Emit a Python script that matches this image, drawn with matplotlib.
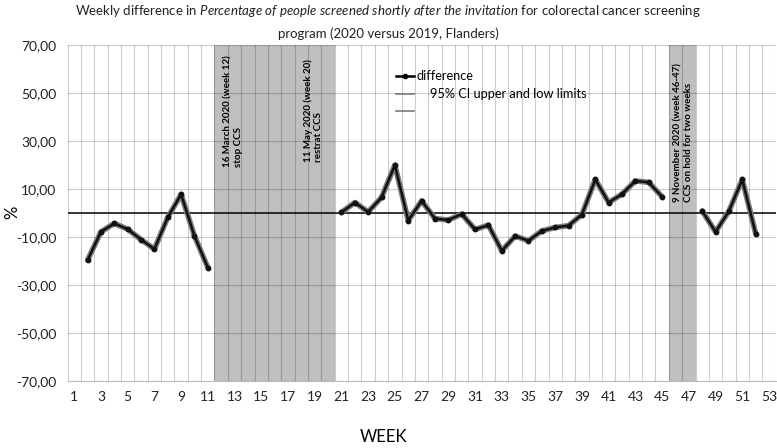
import numpy as np
import matplotlib
matplotlib.use('Agg')
import matplotlib.pyplot as plt
from matplotlib.lines import Line2D

# weekly difference (2020 - 2019), None = no screening / no data
weeks = list(range(1, 54))
difference = [None, -19.7, -7.9, -4.4, -6.8, -11.1, -15.1, -1.9, 7.7, -9.6,
              -22.8, None, None, None, None, None, None, None, None, None,
              0.2, 4.3, 0.4, 6.4, 19.9, -3.2, 5.0, -2.4, -3.0, -0.5,
              -6.9, -5.1, -15.8, -9.7, -11.6, -7.5, -6.1, -5.3, -0.7, 13.9,
              4.3, 7.8, 13.3, 12.7, 6.7, None, None, 0.8, -7.9, 0.7,
              13.9, -8.6, None]
stop_weeks = [12, 20]      # shaded: CCS stopped
hold_weeks = [46, 47]      # shaded: CCS on hold
yticks = [70, 50, 30, 10, -10, -30, -50, -70]
xticks = list(range(1, 54, 2))

plt.rcParams['font.family'] = ['Lato', 'DejaVu Sans']
plt.rcParams['mathtext.fontset'] = 'custom'
plt.rcParams['mathtext.rm'] = 'Lato'
plt.rcParams['mathtext.it'] = 'Lato:italic'

fig = plt.figure(figsize=(7.77, 4.48), dpi=100)
ax = fig.add_axes([0.0869, 0.1496, 0.9114, 0.7506])

w = np.array(weeks, dtype=float)
d = np.array([np.nan if v is None else v for v in difference], dtype=float)

# shaded periods
ax.axvspan(stop_weeks[0] - 0.5, stop_weeks[1] + 0.5, color='#bfbfbf', zorder=1, lw=0)
ax.axvspan(hold_weeks[0] - 0.5, hold_weeks[1] + 0.5, color='#bfbfbf', zorder=1, lw=0)

# grid
for b in np.arange(0.5, 54, 1):
    ax.axvline(b, color='black', alpha=0.2, lw=0.8, zorder=1.5)
for y in yticks:
    ax.axhline(y, color='black', alpha=0.2, lw=0.8, zorder=1.5)
ax.axhline(0, color='black', lw=1.1, zorder=2)

# CI limits (drawn as gray halo) and difference
ax.plot(w, d, color='#7a7a7a', lw=4.0, zorder=3, solid_capstyle='round')
ax.plot(w, d, color='#111111', lw=1.8, marker='o', ms=3.2, zorder=4)

ax.set_xlim(0.5, 53.5)
ax.set_ylim(-70, 70)
ax.set_xticks(xticks)
ax.set_xticklabels([str(x) for x in xticks], fontsize=10)
ax.set_yticks(yticks)
ax.set_yticklabels([('%.2f' % y).replace('.', ',') for y in yticks], fontsize=10)
ax.tick_params(axis='x', length=0, pad=7, colors='#222222')
ax.tick_params(axis='y', length=0, pad=8, colors='#222222')
for s in ['top', 'right', 'left']:
    ax.spines[s].set_visible(False)
ax.spines['bottom'].set_color('#bbbbbb')

# annotations
ax.text(12.9, 19.2, '16 March 2020 (week 12)\nstop CCS', rotation=90, ha='center',
        va='bottom', fontsize=7, fontweight='bold', multialignment='left', zorder=5)
ax.text(18.9, 21.0, '11 May 2020 (week 20)\nrestrat CCS', rotation=90, ha='center',
        va='bottom', fontsize=7, fontweight='bold', multialignment='left', zorder=5)
ax.text(46.6, 4.6, '9 November 2020 (week 46-47)\nCCS on hold for two weeks', rotation=90,
        ha='center', va='bottom', fontsize=7, fontweight='bold', multialignment='left', zorder=5)

# legend
handles = [Line2D([], [], color='black', lw=1.8, marker='o', ms=3),
           Line2D([], [], color='#7a7a7a', lw=1.2),
           Line2D([], [], color='#7a7a7a', lw=1.2)]
labels = ['difference', '    95% CI upper and low limits', '']
fig.legend(handles, labels, loc='upper left', bbox_to_anchor=(390 / 777, 1 - 64 / 448),
           frameon=False, fontsize=9.2, handlelength=1.4, handletextpad=0.2,
           labelspacing=0.45, borderpad=0)

fig.text(388 / 777, 1 - 11 / 448,
         r'Weekly difference in $\mathit{Percentage\ of\ people\ screened\ shortly\ after\ the\ invitation}$'
         ' for colorectal cancer screening', ha='center', va='center', fontsize=9.5, color='#222222')
fig.text(388 / 777, 1 - 34 / 448, 'program (2020 versus 2019, Flanders)', ha='center',
         va='center', fontsize=9.5, color='#222222')
fig.text(12 / 777, 1 - 212 / 448, '%', rotation=90, ha='center', va='center', fontsize=12)
fig.text(383 / 777, 1 - 437 / 448, 'WEEK', ha='center', va='center', fontsize=12)

fig.savefig('out.png', dpi=100)
